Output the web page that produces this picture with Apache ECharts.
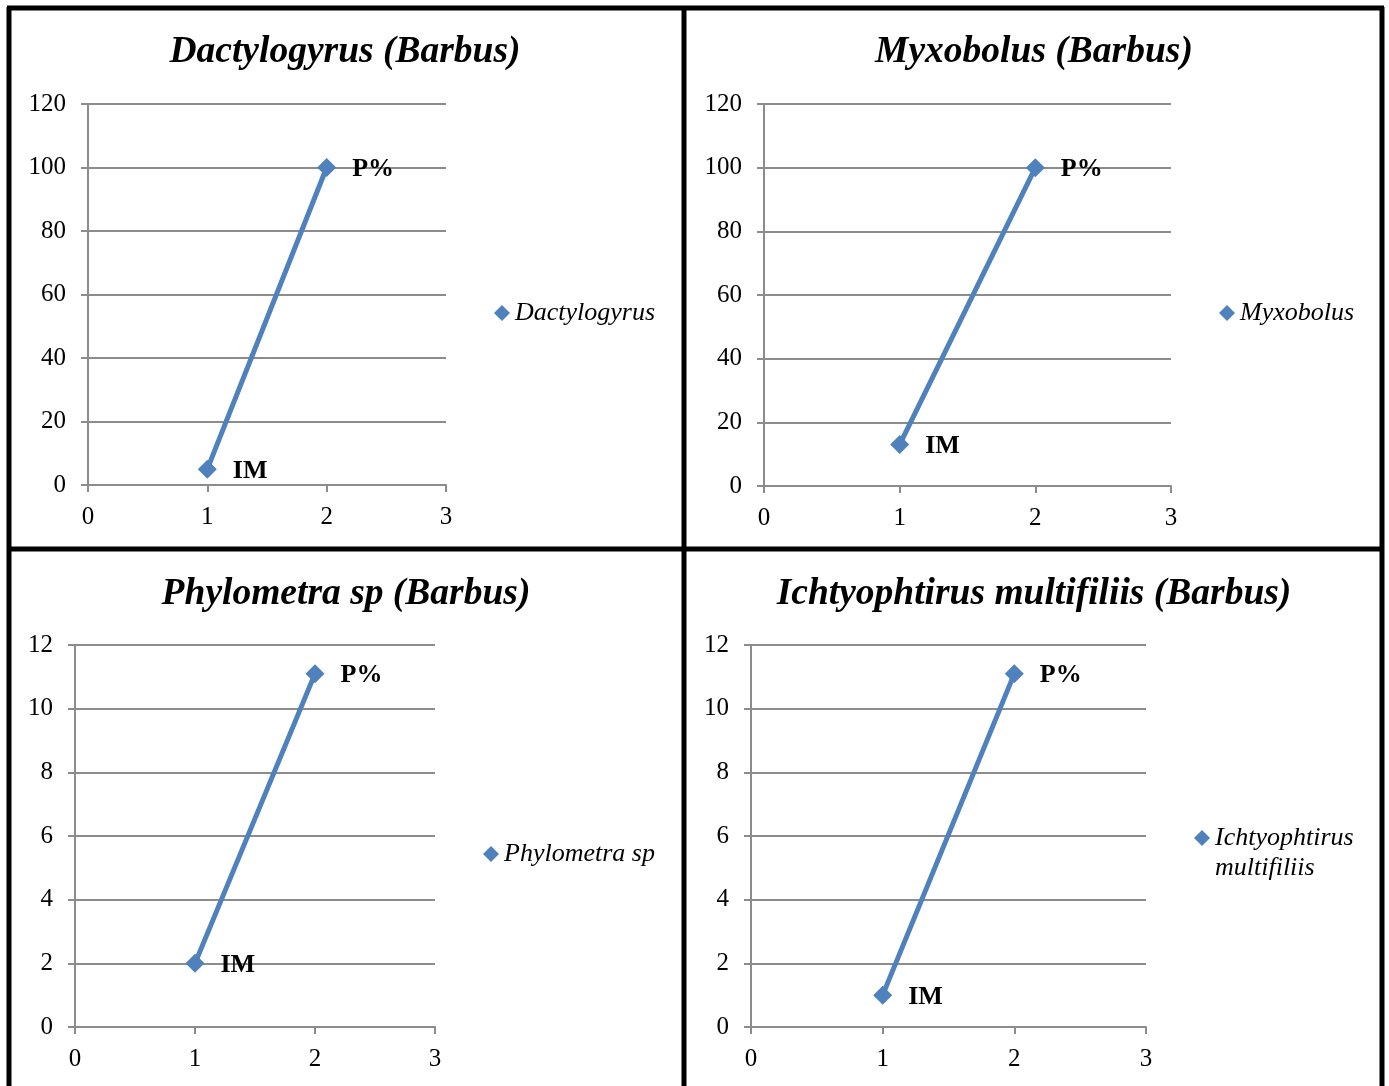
<!DOCTYPE html>
<html>
<head>
<meta charset="utf-8">
<script src="https://cdn.jsdelivr.net/npm/echarts@6/dist/echarts.min.js"></script>
<style>
  html, body { margin: 0; padding: 0; background: #fff; }
  #chart { width: 1389px; height: 1086px; }
</style>
</head>
<body>
<div id="chart"></div>
<script>
// data
const xValues = [1, 2];
const pointLabels = ['IM', 'P%'];
const dactylogyrusValues = [5, 100];
const myxobolusValues = [13, 100];
const phylometraValues = [2, 11.1];
const ichtyoValues = [1, 11.1];
const seriesNames = ['Dactylogyrus', 'Myxobolus', 'Phylometra sp', 'Ichtyophtirus multifiliis'];
const titles = ['Dactylogyrus (Barbus)', 'Myxobolus (Barbus)', 'Phylometra sp (Barbus)', 'Ichtyophtirus multifiliis (Barbus)'];
const yMax = [120, 120, 12, 12];
const yStep = [20, 20, 2, 2];
const xMax = 3;

const allValues = [dactylogyrusValues, myxobolusValues, phylometraValues, ichtyoValues];

// panel layout (pixels)
const grids = [
  {left: 88, top: 104, width: 358, height: 381},
  {left: 764, top: 104, width: 407, height: 382},
  {left: 75, top: 645, width: 360, height: 382},
  {left: 751, top: 645, width: 395, height: 382}
];
const titlePos = [[345, 33], [1034, 33], [346, 575], [1034, 575]];
const legendPos = [[494, 298], [1219, 298], [483, 839], [1194, 793]];

const FONT = '"Liberation Serif", "Times New Roman", serif';
const BLUE = '#4F81BD';
const GRAY = '#8c8c8c';

const mChart = echarts.init(document.getElementById('chart'));

const option = {
  animation: false,
  backgroundColor: '#fff',
  title: titles.map((t, i) => ({
    text: t,
    left: titlePos[i][0],
    top: titlePos[i][1],
    textAlign: 'center',
    padding: 0,
    textStyle: {fontFamily: FONT, fontSize: 37.5, fontWeight: 'bold', fontStyle: 'italic', color: '#000'}
  })),
  legend: seriesNames.map((n, i) => ({
    data: [n],
    left: legendPos[i][0],
    top: legendPos[i][1],
    padding: 0,
    icon: 'diamond',
    itemWidth: 16,
    itemHeight: 16,
    itemGap: 0,
    formatter: i === 3 ? () => '{s| }\n{t|Ichtyophtirus}\n{t|multifiliis}' : '{name}',
    textStyle: {
      fontFamily: FONT, fontSize: 26, fontStyle: 'italic', color: '#000', lineHeight: 30,
      rich: {
        s: {fontSize: 26, lineHeight: 30},
        t: {fontFamily: FONT, fontSize: 26, fontStyle: 'italic', color: '#000', lineHeight: 30}
      }
    }
  })),
  grid: grids,
  xAxis: grids.map((g, i) => ({
    type: 'value',
    gridIndex: i,
    min: 0,
    max: xMax,
    interval: 1,
    axisLine: {lineStyle: {color: GRAY, width: 2}},
    axisTick: {show: true, length: 7, lineStyle: {color: GRAY, width: 2}},
    axisLabel: {fontFamily: FONT, fontSize: 25, color: '#000', margin: 20},
    splitLine: {show: false}
  })),
  yAxis: grids.map((g, i) => ({
    type: 'value',
    gridIndex: i,
    min: 0,
    max: yMax[i],
    interval: yStep[i],
    axisLine: {show: true, lineStyle: {color: GRAY, width: 2}},
    axisTick: {show: true, length: 7, lineStyle: {color: GRAY, width: 2}},
    axisLabel: {fontFamily: FONT, fontSize: 25, color: '#000', margin: 22},
    splitLine: {show: true, lineStyle: {color: GRAY, width: 2}}
  })),
  series: allValues.map((vals, i) => ({
    name: seriesNames[i],
    type: 'line',
    xAxisIndex: i,
    yAxisIndex: i,
    data: xValues.map((x, k) => ({value: [x, vals[k]], name: pointLabels[k]})),
    symbol: 'diamond',
    symbolSize: 19,
    itemStyle: {color: BLUE},
    lineStyle: {color: BLUE, width: 5},
    label: {
      show: true,
      position: 'right',
      distance: 16,
      offset: [0, 2],
      formatter: p => p.name,
      fontFamily: FONT, fontSize: 26, fontWeight: 'bold', color: '#000'
    }
  })),
  graphic: [
    // table borders
    {type: 'line', shape: {x1: 9, y1: 7, x2: 9, y2: 1086}, style: {stroke: '#000', lineWidth: 5}},
    {type: 'line', shape: {x1: 684, y1: 7, x2: 684, y2: 1086}, style: {stroke: '#000', lineWidth: 5}},
    {type: 'line', shape: {x1: 1382, y1: 7, x2: 1382, y2: 1086}, style: {stroke: '#000', lineWidth: 5}},
    {type: 'line', shape: {x1: 7, y1: 8, x2: 1384, y2: 8}, style: {stroke: '#000', lineWidth: 5}},
    {type: 'line', shape: {x1: 7, y1: 549, x2: 1384, y2: 549}, style: {stroke: '#000', lineWidth: 5}}
  ]
};

mChart.setOption(option);
</script>
</body>
</html>
